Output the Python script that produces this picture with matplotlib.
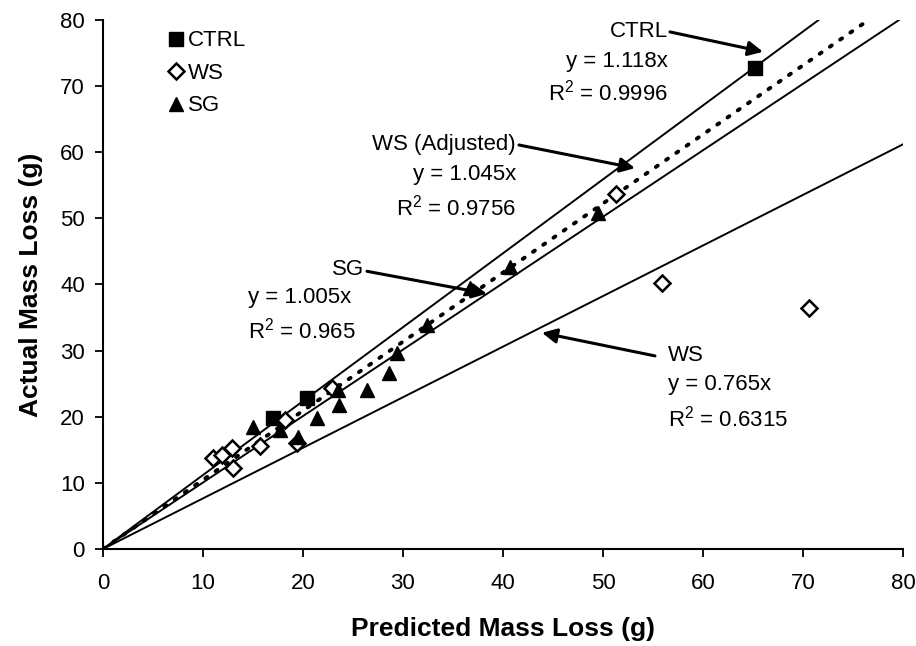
import matplotlib.pyplot as plt

plt.rcParams['font.family'] = ['Liberation Sans', 'DejaVu Sans']
plt.rcParams['mathtext.default'] = 'regular'

# datos
ctrl_x = [17.0, 20.4, 65.2]
ctrl_y = [19.8, 22.8, 72.8]

ws_x = [11.0, 11.9, 12.9, 13.0, 15.7, 18.2, 19.4, 22.9, 51.3, 55.9, 70.6]
ws_y = [13.7, 14.2, 15.2, 12.2, 15.5, 19.5, 16.0, 24.3, 53.7, 40.2, 36.5]

sg_x = [15.0, 17.7, 19.5, 21.4, 23.6, 23.5, 26.4, 28.6, 29.4, 32.4, 36.7, 40.7, 49.5]
sg_y = [18.4, 18.0, 17.0, 19.8, 21.8, 24.0, 24.1, 26.6, 29.6, 33.9, 39.4, 42.7, 50.8]

# pendientes de las rectas de ajuste
pend_ctrl = 1.118
pend_ws_adj = 1.045
pend_sg = 1.005
pend_ws = 0.765

fig = plt.figure(figsize=(9.16, 6.46), dpi=100)
ax = fig.add_axes([0.1124, 0.1502, 0.8734, 0.8188])

# rectas (limitadas a y <= 80)
for m in [pend_ctrl, pend_sg, pend_ws]:
    xmax = min(80, 80 / m)
    ax.plot([0, xmax], [0, m * xmax], color='black', lw=1.4, zorder=2)
xmax = min(80, 80 / pend_ws_adj)
ax.plot([0, xmax], [0, pend_ws_adj * xmax], color='black', lw=2.8,
        dashes=(0.6, 2.6), dash_capstyle='round', zorder=2)

# puntos
ax.plot(ctrl_x, ctrl_y, 's', color='black', ms=10, ls='none', label='CTRL', zorder=3)
ax.plot(ws_x, ws_y, 'D', mfc='white', mec='black', mew=1.8, ms=8, ls='none', label='WS', zorder=3)
ax.plot(sg_x, sg_y, '^', color='black', ms=10, ls='none', label='SG', zorder=3)

ax.set_xlim(0, 80)
ax.set_ylim(0, 80)
ax.set_xticks(range(0, 81, 10))
ax.set_yticks(range(0, 81, 10))
ax.spines['top'].set_visible(False)
ax.spines['right'].set_visible(False)
ax.spines['left'].set_linewidth(1.5)
ax.spines['bottom'].set_linewidth(1.5)
ax.tick_params(direction='out', length=6, width=1.3, labelsize=16)
ax.tick_params(axis='x', pad=11)
ax.tick_params(axis='y', pad=7)

ax.set_xlabel('Predicted Mass Loss (g)', fontsize=19, fontweight='bold', labelpad=17)
ax.set_ylabel('Actual Mass Loss (g)', fontsize=19, fontweight='bold', labelpad=12)

leg = ax.legend(loc='upper left', bbox_to_anchor=(0.062, 1.01), frameon=False,
                fontsize=16, handlelength=0.7, handletextpad=0.2, labelspacing=0.52,
                borderaxespad=0.3)

# anotaciones
fs = 16
flecha = dict(arrowstyle='-|>', color='black', lw=2.2, mutation_scale=22, shrinkA=0, shrinkB=0)

ax.text(56.5, 78.2, 'CTRL', fontsize=fs, ha='right', va='center')
ax.text(56.5, 73.7, 'y = 1.118x', fontsize=fs, ha='right', va='center')
ax.text(56.5, 69.0, 'R$^2$ = 0.9996', fontsize=fs, ha='right', va='center')
ax.annotate('', xy=(66.0, 75.2), xytext=(56.7, 78.2), arrowprops=flecha)

ax.text(41.3, 61.1, 'WS (Adjusted)', fontsize=fs, ha='right', va='center')
ax.text(41.3, 56.6, 'y = 1.045x', fontsize=fs, ha='right', va='center')
ax.text(41.3, 51.6, 'R$^2$ = 0.9756', fontsize=fs, ha='right', va='center')
ax.annotate('', xy=(53.2, 57.6), xytext=(41.6, 61.1), arrowprops=flecha)

ax.text(24.5, 42.2, 'SG', fontsize=fs, ha='center', va='center')
ax.text(14.5, 38.0, 'y = 1.005x', fontsize=fs, ha='left', va='center')
ax.text(14.5, 33.0, 'R$^2$ = 0.965', fontsize=fs, ha='left', va='center')
ax.annotate('', xy=(38.4, 38.6), xytext=(26.4, 42.0), arrowprops=flecha)

ax.text(56.5, 29.3, 'WS', fontsize=fs, ha='left', va='center')
ax.text(56.5, 24.8, 'y = 0.765x', fontsize=fs, ha='left', va='center')
ax.text(56.5, 19.8, 'R$^2$ = 0.6315', fontsize=fs, ha='left', va='center')
ax.annotate('', xy=(43.9, 32.7), xytext=(55.2, 29.2), arrowprops=flecha)

fig.savefig('out.png', dpi=100)
